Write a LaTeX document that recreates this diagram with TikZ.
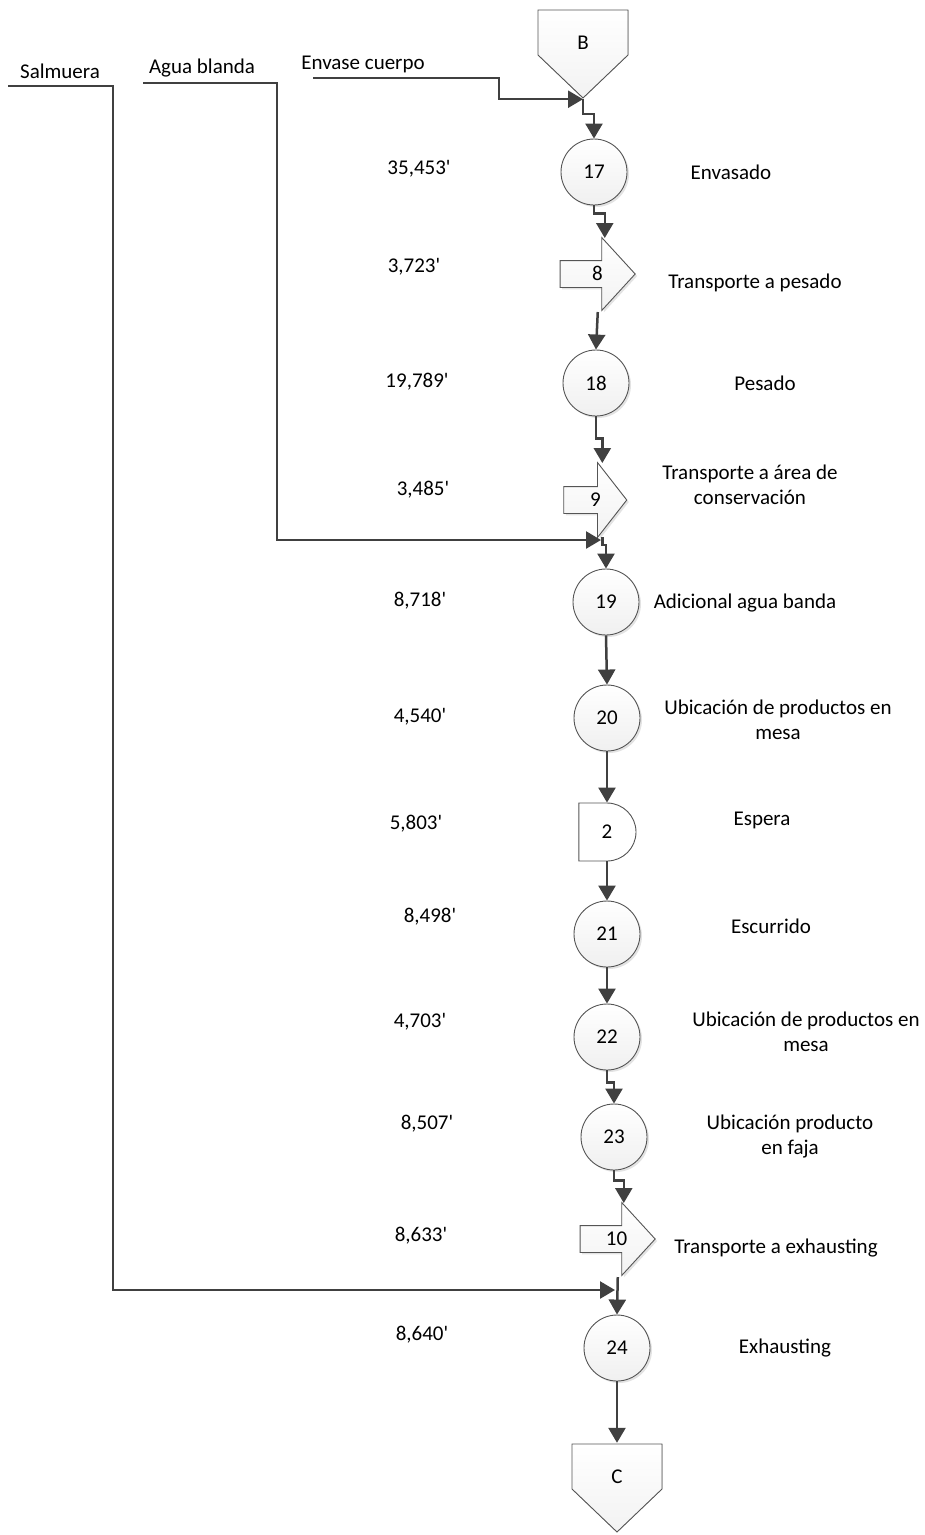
\documentclass[tikz,border=0pt]{standalone}
\usepackage{fontspec}
\setmainfont{Carlito}
\usetikzlibrary{arrows.meta,shapes.arrows,shapes.misc,calc,shadows}
\definecolor{linegray}{HTML}{404040}
\definecolor{edgegray}{HTML}{555555}
\definecolor{shapefill}{HTML}{F2F2F2}
\newcommand{\mins}{\textquotesingle}
\begin{document}
\begin{tikzpicture}[x=1pt,y=-1pt,
  every node/.style={font=\fontsize{21}{25}\selectfont, text=black},
  flow/.style={draw=linegray, line width=2.5pt, -{Triangle[length=15pt,width=17pt]}},
  feedline/.style={draw=linegray, line width=2.5pt, -{Triangle[length=15pt,width=17pt]}},
  softshadow/.style={drop shadow={shadow xshift=2pt, shadow yshift=-2pt, opacity=0.22, fill=gray}},
  opcircle/.style={circle, draw=edgegray, line width=0.9pt, top color=white, bottom color=gray!12,
    minimum size=66pt, inner sep=0pt, softshadow},
  transp/.style={single arrow, draw=edgegray, line width=0.9pt, top color=white, bottom color=gray!10,
    shape border rotate=0, inner xsep=2pt, inner ysep=6.5pt, text height=13pt, text depth=0pt,
    single arrow head extend=23pt, single arrow tip angle=95, minimum height=75pt, softshadow},
  waitbox/.style={rounded rectangle, rounded rectangle left arc=none, draw=edgegray, line width=0.9pt,
    fill=white, minimum width=48pt, minimum height=58pt, inner sep=0pt},
  offpage/.style={rectangle, minimum width=92pt, minimum height=90pt, inner sep=0pt,
    text height=0pt, text depth=9pt,
    path picture={
      \coordinate (pNW) at (path picture bounding box.north west);
      \coordinate (pSE) at (path picture bounding box.south east);
      \filldraw[draw=edgegray, line width=0.9pt, top color=white, bottom color=gray!10]
        ($(pNW)+(1,1)$) -- ($(pNW -| pSE)+(-1,1)$) -- ($(pNW -| pSE)+(-1,46)$)
        -- ($(pNW)!0.5!(pNW -| pSE)+(0,89)$) -- ($(pNW)+(1,46)$) -- cycle;
    }},
  timelbl/.style={inner sep=0pt},
  desclbl/.style={inner sep=0pt, align=center},
  feedlbl/.style={inner sep=0pt}
]
\useasboundingbox (0,0) rectangle (925,1535);

% ---- main chain of symbols ----
\node[offpage] (B) at (583,54) {B};
\node[opcircle] (c17) at (594,172) {17};
\node[transp] (t8) at (591.5,274) {\hspace*{12pt}8};
\node[opcircle] (c18) at (596,383) {18};
\node[transp, single arrow head extend=24pt, single arrow tip angle=104, minimum height=63pt] (t9) at (590,500) {\hspace*{11pt}9};
\node[opcircle] (c19) at (606,602) {19};
\node[opcircle] (c20) at (607,718) {20};
\node[waitbox] (e2) at (607,832) {2};
\node[opcircle] (c21) at (607,934) {21};
\node[opcircle] (c22) at (607,1037) {22};
\node[opcircle] (c23) at (614,1137) {23};
\node[transp] (t10) at (611.5,1239) {\hspace*{10pt}10};
\node[opcircle] (c24) at (617,1348) {24};
\node[offpage] (C) at (617,1488) {C};

% ---- incoming materials ----
\node[feedlbl] (envLbl) at (363,64) {Envase cuerpo};
\node[feedlbl] (aguaLbl) at (202,68) {Agua blanda};
\node[feedlbl] (salLbl) at (60,71) {Salmuera};
\coordinate (envStart) at (313,78);
\coordinate (aguaStart) at (143,83);
\coordinate (salStart) at (8,86);
\coordinate (aguaEnd) at (601,540);
\coordinate (salEnd) at (615,1290);

% ---- connectors ----
\draw[feedline] (envStart) -- ++(186,0) |- (B.south);
\draw[flow] (B.south) -- ++(0,15) -| (c17.north);
\draw[flow] (c17.south) -- ++(0,8) -| ($(t8.tip)+(-31,-36)$);
\draw[flow] ($(t8.tip)+(-38,38)$) -- (c18.north);
\draw[flow] (c18.south) -- ++(0,22) -| ($(t9.tip)+(-25,-37)$);
\draw[flow] ($(t9.tip)+(-25,37)$) -- ++(0,8) -| (c19.north);
\draw[feedline] (aguaStart) -- ++(134,0) |- (aguaEnd);
\draw[flow] (c19.south) -- (c20.north);
\draw[flow] (c20.south) -- (e2.north);
\draw[flow] (e2.south) -- (c21.north);
\draw[flow] (c21.south) -- (c22.north);
\draw[flow] (c22.south) -- ++(0,12) -| (c23.north);
\draw[flow] (c23.south) -- ++(0,10) -| ($(t10.tip)+(-32,-36)$);
\draw[flow] ($(t10.tip)+(-38,38)$) -- (c24.north);
\draw[feedline] (salStart) -- ++(105,0) |- (salEnd);
\draw[flow] (c24.south) -- (C.north);

% ---- times ----
\node[timelbl] (tm17) at (419,169) {35,453\mins};
\node[timelbl] (tm8)  at (414,267) {3,723\mins};
\node[timelbl] (tm18) at (417,382) {19,789\mins};
\node[timelbl] (tm9)  at (423,490) {3,485\mins};
\node[timelbl] (tm19) at (420,601) {8,718\mins};
\node[timelbl] (tm20) at (420,717) {4,540\mins};
\node[timelbl] (tm2)  at (416,824) {5,803\mins};
\node[timelbl] (tm21) at (430,917) {8,498\mins};
\node[timelbl] (tm22) at (420,1022) {4,703\mins};
\node[timelbl] (tm23) at (427,1124) {8,507\mins};
\node[timelbl] (tm10) at (421,1236) {8,633\mins};
\node[timelbl] (tm24) at (422,1335) {8,640\mins};

% ---- activity descriptions ----
\node[desclbl] (d17) at (731,172) {Envasado};
\node[desclbl] (d8)  at (755,283) {Transporte a pesado};
\node[desclbl] (d18) at (765,383) {Pesado};
\node[desclbl] (d9)  at (750,485) {Transporte a área de\\conservación};
\node[desclbl] (d19) at (745,603) {Adicional agua banda};
\node[desclbl] (d20) at (778,719.5) {Ubicación de productos en\\mesa};
\node[desclbl] (d2)  at (762,820) {Espera};
\node[desclbl] (d21) at (771,926) {Escurrido};
\node[desclbl] (d22) at (806,1031.5) {Ubicación de productos en\\mesa};
\node[desclbl] (d23) at (790,1136) {Ubicación producto\\en faja};
\node[desclbl] (d10) at (776,1248) {Transporte a exhausting};
\node[desclbl] (d24) at (785,1348) {Exhausting};
\end{tikzpicture}
\end{document}
